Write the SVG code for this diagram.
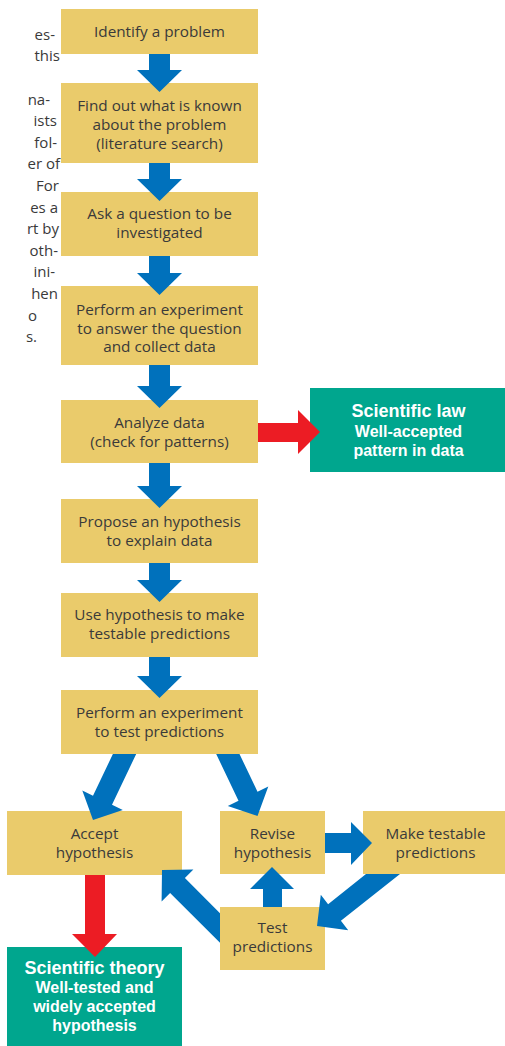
<svg xmlns="http://www.w3.org/2000/svg" width="505" height="1046" viewBox="0 0 505 1046">
<style>
.box{fill:#EACB6B}
.grn{fill:#00A68E}
.t{font-family:"Open Sans","Noto Sans","Liberation Sans",sans-serif;font-size:15.3px;fill:#3a3a3a;text-anchor:middle}
.b{font-family:"Liberation Sans",Arial,sans-serif;font-size:16px;font-weight:bold;fill:#ffffff;text-anchor:middle}
.bt{font-size:18px}
.side{font-family:"Open Sans","Noto Sans","Liberation Sans",sans-serif;font-size:15px;fill:#3a3a3a;text-anchor:end}
.blue{fill:#0071BC}
.red{fill:#EC1C24}
</style>
<rect width="505" height="1046" fill="#ffffff"/>
<g id="side-text">
<text class="side" x="55" y="39.7">es-</text>
<text class="side" x="60" y="61.3">this</text>
<text class="side" x="50" y="104.5">na-</text>
<text class="side" x="57" y="126">ists</text>
<text class="side" x="57" y="147.7">fol-</text>
<text class="side" x="60" y="169.3">er of</text>
<text class="side" x="59" y="190.9">For</text>
<text class="side" x="58" y="212.5">es a</text>
<text class="side" x="59" y="234">rt by</text>
<text class="side" x="58" y="255.7">oth-</text>
<text class="side" x="55" y="277.3">ini-</text>
<text class="side" x="58" y="298.9">hen</text>
<text class="side" x="37" y="320.5">o</text>
<text class="side" x="37" y="342">s.</text>
</g>
<g id="n1"><rect class="box" x="61" y="9" width="197" height="45"/><text class="t" x="159.5" y="37">Identify a problem</text></g>
<g id="n2"><rect class="box" x="61" y="83" width="197" height="80"/><text class="t" x="159.5" y="110.5">Find out what is known</text><text class="t" x="159.5" y="129.5">about the problem</text><text class="t" x="159.5" y="148.5">(literature search)</text></g>
<g id="n3"><rect class="box" x="61" y="192" width="197" height="64"/><text class="t" x="159.5" y="219">Ask a question to be</text><text class="t" x="159.5" y="238">investigated</text></g>
<g id="n4"><rect class="box" x="61" y="286" width="197" height="79"/><text class="t" x="159.5" y="315">Perform an experiment</text><text class="t" x="159.5" y="333.5">to answer the question</text><text class="t" x="159.5" y="352">and collect data</text></g>
<g id="n5"><rect class="box" x="61" y="400" width="197" height="63"/><text class="t" x="159.5" y="427.5">Analyze data</text><text class="t" x="159.5" y="446.5">(check for patterns)</text></g>
<g id="n6"><rect class="box" x="61" y="499" width="197" height="64"/><text class="t" x="159.5" y="526.5">Propose an hypothesis</text><text class="t" x="159.5" y="545.5">to explain data</text></g>
<g id="n7"><rect class="box" x="61" y="593" width="197" height="64"/><text class="t" x="159.5" y="620">Use hypothesis to make</text><text class="t" x="159.5" y="639">testable predictions</text></g>
<g id="n8"><rect class="box" x="61" y="690" width="197" height="64"/><text class="t" x="159.5" y="718">Perform an experiment</text><text class="t" x="159.5" y="737">to test predictions</text></g>
<g id="law"><rect class="grn" x="310" y="388" width="195" height="84"/><text class="b bt" x="408.5" y="417">Scientific law</text><text class="b" x="408.5" y="436.5">Well-accepted</text><text class="b" x="408.5" y="456">pattern in data</text></g>
<g id="accept"><rect class="box" x="7" y="811" width="175" height="64"/><text class="t" x="94.5" y="839">Accept</text><text class="t" x="94.5" y="857.5">hypothesis</text></g>
<g id="revise"><rect class="box" x="220" y="811" width="105" height="63"/><text class="t" x="272.5" y="839">Revise</text><text class="t" x="272.5" y="857.5">hypothesis</text></g>
<g id="make"><rect class="box" x="363" y="811" width="142" height="63"/><text class="t" x="435.5" y="839">Make testable</text><text class="t" x="435.5" y="857.5">predictions</text></g>
<g id="test"><rect class="box" x="220" y="907" width="105" height="63"/><text class="t" x="272.5" y="933">Test</text><text class="t" x="272.5" y="951.5">predictions</text></g>
<g id="theory"><rect class="grn" x="7" y="947" width="175" height="99"/><text class="b bt" x="94.5" y="974">Scientific theory</text><text class="b" x="94.5" y="993">Well-tested and</text><text class="b" x="94.5" y="1012">widely accepted</text><text class="b" x="94.5" y="1031">hypothesis</text></g>
<g id="connectors">
<polygon class="blue" points="149,54 170,54 170,70 182,70 159.5,92 137,70 149,70"/>
<polygon class="blue" points="149,163 170,163 170,179 182,179 159.5,201 137,179 149,179"/>
<polygon class="blue" points="149,256 170,256 170,273 182,273 159.5,295 137,273 149,273"/>
<polygon class="blue" points="149,365 170,365 170,386 182,386 159.5,408 137,386 149,386"/>
<polygon class="blue" points="149,463 170,463 170,486 182,486 159.5,508 137,486 149,486"/>
<polygon class="blue" points="149,563 170,563 170,580 182,580 159.5,602 137,580 149,580"/>
<polygon class="blue" points="149,657 170,657 170,676 182,676 159.5,698 137,676 149,676"/>
<polygon class="red" points="258,423 298,423 298,410 320,432 298,454 298,442 258,442"/>
<polygon class="blue" points="112.9,754 136.2,754 112,804.7 122.8,809.9 93,820 82.3,790.5 93,795.7"/>
<polygon class="blue" points="216.2,754 239.5,754 257.5,791.7 268.3,786.5 257.5,816 227.8,805.9 238.5,800.7"/>
<polygon class="red" points="85,875 105,875 105,934 117,934 95,957 72,934 85,934"/>
<polygon class="blue" points="325,833 351,833 351,822 372,843 351,865 351,853 325,853"/>
<polygon class="blue" points="366,874 400,874 340.9,920.8 348.2,930.3 317,926 320.8,894.7 328.1,904.2"/>
<polygon class="blue" points="263,907 263,889 250,889 272,867 294,889 282,889 282,907"/>
<polygon class="blue" points="162,870 193.4,869.6 184.9,878.1 220,913.2 220,942.8 170.1,892.9 161.6,901.4"/>
</g>
</svg>
